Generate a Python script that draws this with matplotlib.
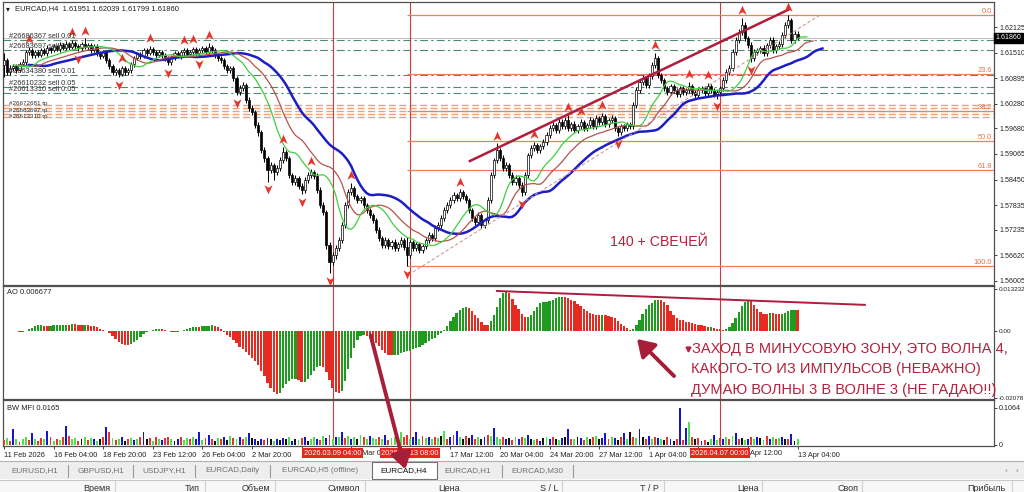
import numpy as np
import pandas as pd
import matplotlib
matplotlib.use("Agg")
import matplotlib.pyplot as plt
from matplotlib.patches import Rectangle, FancyArrowPatch
from matplotlib.path import Path
from matplotlib.lines import Line2D

plt.rcParams['font.family'] = ['Liberation Sans', 'DejaVu Sans']

# ---------------- data (prices in 1e-4 units) ----------------
opens = [
16120,16132,16104,16113,16118,16108,16123,16128,16152,16157,
16145,16152,16145,16157,16149,16161,16157,16166,16159,16169,
16161,16171,16164,16173,16166,16161,16171,16164,16169,16157,
16166,16149,16142,16152,16132,16118,16104,16108,16099,16113,
16104,16108,16123,16137,16147,16142,16157,16149,16159,16152,
16145,16152,16145,16137,16128,16140,16149,16142,16152,16157,
16147,16152,16159,16149,16157,16161,16152,16164,16157,16145,
16137,16132,16118,16108,16113,16089,16055,16065,16072,16036,
16017,16007,15976,15959,15916,15896,15867,15879,15863,15872,
15891,15911,15896,15855,15838,15848,15829,15819,15843,15855,
15863,15853,15819,15783,15766,15687,15646,15662,15679,15699,
15735,15783,15814,15824,15805,15795,15800,15783,15771,15759,
15747,15723,15703,15687,15699,15684,15694,15679,15689,15699,
15682,15662,15694,15679,15689,15675,15684,15699,15711,15703,
15728,15735,15752,15771,15783,15795,15807,15800,15814,15805,
15795,15771,15752,15742,15759,15735,15747,15795,15855,15891,
15916,15896,15872,15879,15855,15838,15848,15831,15814,15855,
15903,15920,15928,15916,15925,15935,15952,15969,15976,15964,
15983,15973,15988,15969,15978,15964,15973,15983,15969,15976,
15988,15973,15993,15983,15997,15978,15988,15993,15969,15959,
15973,15969,15978,15973,16024,16060,16079,16089,16072,16094,
16120,16137,16096,16084,16065,16055,16070,16060,16050,16065,
16055,16060,16070,16055,16048,16060,16065,16053,16070,16060,
16050,16055,16065,16084,16104,16113,16152,16181,16200,16217,
16185,16169,16137,16152,16157,16161,16149,16169,16181,16157,
16166,16171,16193,16217,16229,16181,16195]

highs = [
16150,16137,16120,16124,16123,16128,16135,16158,16164,16161,
16158,16157,16163,16162,16168,16165,16172,16170,16176,16173,
16178,16176,16181,16178,16171,16177,16185,16175,16174,16172,
16171,16155,16158,16157,16138,16124,16114,16113,16119,16118,
16114,16128,16143,16153,16152,16163,16162,16166,16164,16158,
16158,16157,16151,16142,16146,16155,16154,16158,16163,16162,
16158,16165,16164,16163,16167,16166,16175,16170,16162,16151,
16142,16138,16124,16119,16118,16094,16073,16079,16077,16043,
16024,16013,15983,15965,15923,15902,15886,15885,15880,15899,
15923,15917,15902,15861,15855,15854,15836,15850,15862,15870,
15869,15860,15826,15790,15772,15694,15670,15686,15706,15742,
15790,15822,15836,15830,15811,15806,15806,15789,15777,15765,
15753,15730,15710,15706,15705,15700,15701,15695,15706,15705,
15706,15700,15700,15695,15695,15690,15705,15718,15717,15735,
15742,15759,15778,15790,15802,15815,15813,15821,15820,15811,
15801,15777,15758,15766,15765,15753,15802,15862,15898,15932,
15922,15903,15886,15885,15862,15855,15854,15838,15862,15910,
15927,15935,15934,15931,15942,15959,15976,15983,15982,15990,
15990,15995,16000,15984,15985,15979,15990,15989,15982,15995,
15994,16000,15999,16005,16003,15994,16000,15999,15975,15979,
15979,15984,15984,16031,16067,16086,16096,16095,16101,16127,
16149,16143,16102,16090,16071,16076,16076,16066,16071,16071,
16066,16080,16076,16061,16066,16071,16071,16077,16076,16066,
16061,16071,16091,16111,16120,16159,16188,16208,16234,16224,
16192,16176,16159,16163,16167,16168,16175,16188,16188,16172,
16178,16200,16224,16241,16235,16202,16204]

lows = [
16092,16096,16098,16107,16101,16103,16118,16122,16146,16138,
16139,16140,16140,16144,16143,16151,16152,16154,16153,16156,
16156,16158,16159,16160,16155,16156,16159,16158,16151,16152,
16143,16136,16137,16126,16111,16096,16098,16091,16094,16098,
16096,16102,16117,16132,16136,16137,16143,16144,16146,16139,
16140,16139,16131,16121,16122,16134,16137,16136,16146,16141,
16142,16146,16144,16143,16151,16147,16147,16151,16139,16130,
16126,16112,16101,16102,16083,16048,16049,16058,16030,16010,
16000,15969,15951,15909,15888,15840,15860,15845,15856,15866,
15885,15889,15848,15831,15832,15822,15810,15812,15837,15849,
15846,15812,15776,15759,15678,15619,15638,15654,15672,15692,
15728,15776,15807,15798,15788,15788,15776,15764,15752,15740,
15716,15696,15679,15680,15677,15677,15672,15672,15683,15675,
15636,15655,15672,15673,15668,15668,15677,15692,15696,15697,
15721,15728,15745,15764,15776,15788,15793,15793,15798,15788,
15764,15745,15735,15735,15728,15728,15740,15788,15848,15884,
15889,15865,15865,15848,15831,15831,15824,15805,15807,15848,
15896,15913,15909,15909,15918,15928,15945,15962,15957,15957,
15966,15966,15962,15962,15957,15957,15966,15962,15962,15969,
15966,15966,15976,15976,15971,15971,15981,15962,15949,15952,
15962,15962,15966,15966,16017,16053,16072,16065,16065,16087,
16113,16089,16077,16058,16048,16048,16053,16043,16043,16048,
16048,16053,16048,16041,16041,16053,16046,16046,16053,16043,
16040,16048,16058,16077,16097,16106,16145,16174,16193,16178,
16162,16128,16130,16145,16150,16142,16142,16162,16150,16150,
16159,16164,16186,16210,16174,16174,16180]

closes = [
16132,16104,16113,16118,16108,16123,16128,16152,16157,16145,
16152,16145,16157,16149,16161,16157,16166,16159,16169,16161,
16171,16164,16173,16166,16161,16171,16164,16169,16157,16166,
16149,16142,16152,16132,16118,16104,16108,16099,16113,16104,
16108,16123,16137,16147,16142,16157,16149,16159,16152,16145,
16152,16145,16137,16128,16140,16149,16142,16152,16157,16147,
16152,16159,16149,16157,16161,16152,16164,16157,16145,16137,
16132,16118,16108,16113,16089,16055,16065,16072,16036,16017,
16007,15976,15959,15916,15896,15867,15879,15863,15872,15891,
15911,15896,15855,15838,15848,15829,15819,15843,15855,15863,
15853,15819,15783,15766,15687,15646,15662,15679,15699,15735,
15783,15814,15824,15805,15795,15800,15783,15771,15759,15747,
15723,15703,15687,15699,15684,15694,15679,15689,15699,15682,
15662,15694,15679,15689,15675,15684,15699,15711,15703,15728,
15735,15752,15771,15783,15795,15807,15800,15814,15805,15795,
15771,15752,15742,15759,15735,15747,15795,15855,15891,15916,
15896,15872,15879,15855,15838,15848,15831,15814,15855,15903,
15920,15928,15916,15925,15935,15952,15969,15976,15964,15983,
15973,15988,15969,15978,15964,15973,15983,15969,15976,15988,
15973,15993,15983,15997,15978,15988,15993,15969,15959,15973,
15969,15978,15973,16024,16060,16079,16089,16072,16094,16120,
16137,16096,16084,16065,16055,16070,16060,16050,16065,16055,
16060,16070,16055,16048,16060,16065,16053,16070,16060,16050,
16055,16065,16084,16104,16113,16152,16181,16200,16217,16185,
16169,16137,16152,16157,16161,16149,16169,16181,16157,16166,
16171,16193,16217,16229,16181,16195,16186]

# BW MFI values (1e-3 units) and bar colours (g=green, r=red, b=blue, k=black)
mfi = [
14,20,12,46,18,10,16,22,14,35, 18,12,20,16,41,24,12,18,14,22,
55,26,16,20,12,18,24,14,20,16, 12,18,22,52,38,20,14,18,22,12,
16,20,14,18,24,38,16,20,12,22, 18,14,20,24,16,12,18,22,14,20,
16,24,18,38,14,20,28,16,12,20, 18,22,14,26,20,16,24,18,22,35,
20,16,12,18,14,20,16,12,18,14, 20,16,22,12,18,14,20,24,12,16,
22,18,14,26,20,30,18,24,22,38, 20,26,18,24,16,28,22,18,26,20,
16,22,18,28,14,20,24,16,38,22, 30,18,24,38,16,26,20,22,18,24,
20,26,40,18,24,30,40,22,18,26, 20,28,16,24,18,22,30,26,50,24,
18,22,16,20,14,24,18,22,20,29, 16,14,18,12,20,24,18,22,16,14,
20,24,46,18,16,22,20,14,24,18, 22,26,16,20,34,18,24,20,14,22,
35,18,38,24,20,46,22,16,26,18, 24,20,18,14,22,16,12,18,106,14,
50,67,24,16,20,12,14,10,18,29, 14,20,16,22,18,26,35,16,20,14,
18,22,16,24,20,14,26,18,22,16, 20,24,18,16,32,12,16]
mfi_colors = ("rgrbgrggrb" "grrgbrgrgr" "brggrkgrgb" "gkrbrgrgbk" "rgbgrbkrgr"
              "gbrrgkbrgg" "rgbbgrbrkg" "rbkgrgbrgb" "kbkbrbkgbk" "bkgbkgrbkg"
              "gbrgbrgbgb" "rgbgkgrgbg" "grgbrggrgr" "rgbbgrgbgr" "gkgrbrbgkr"
              "kbrgkbrgbg" "grbkrgbrgb" "kgrbkgbrkg" "bkbrgkbrgk" "rgkbbrgbkr"
              "bgkrgbkrbg" "rbgkrbkrbr" "bgrkrbrkgb" "grbgrgbrkg" "brgbkgrbgr"
              "gbkrbkg")

# time scale: ticks every 16 bars; labels hidden behind the red time boxes are blank,
# partly hidden ones show only their visible part (as on the screenshot)
time_tick_idx = [0, 16, 32, 48, 64, 80, 96, 112, 128, 144, 160, 176, 192, 208, 224, 240, 256]
time_tick_lbl = ["11 Feb 2026", "16 Feb 04:00", "18 Feb 20:00", "23 Feb 12:00", "26 Feb 04:00",
                 "2 Mar 20:00", "", "", "", "17 Mar 12:00",
                 "20 Mar 04:00", "24 Mar 20:00", "27 Mar 12:00", "1 Apr 04:00", "",
                 "", "13 Apr 04:00"]
partial_lbl = [(115.4, "Mar 0"), (240.6, "Apr 12:00")]
vline_idx = [106, 131, 231]
vline_lbl = ["2026.03.09 04:00", "2026.03.13 08:00", "2026.04.07 00:00"]

price_ticks = [1.62125, 1.61510, 1.60895, 1.60280, 1.59680, 1.59065,
               1.58450, 1.57835, 1.57235, 1.56620, 1.56005]
ao_ticks = [0.013232, 0.0, -0.02078]
ao_tick_lbl = ["0.013232", "0.00", "-0.02078"]
mfi_ticks = [0.1064, 0.0]
mfi_tick_lbl = ["0.1064", "0"]

fib_high, fib_low, fib_start = 1.6241, 1.5636, 130
fib_ratios = [0.0, 23.6, 38.2, 50.0, 61.8, 100.0]

order_green = [1.61812, 1.61571, 1.60968, 1.60679, 1.60535]
order_green_lbl = ["#26686367 sell 0.01", "#26683697 sell 0.07", "#26634380 sell 0.01",
                   "#26610232 sell 0.05", "#26613310 sell 0.05"]
order_orange = [1.60245, 1.60173, 1.60101, 1.60029, 1.59956]
order_orange_lbl = ["#26672681 tp", "#26683697 tp", "#26613310 tp"]
order_orange_lbl_price = [1.60270, 1.60114, 1.59958]

channel_x, channel_y = [150.3, 253.5], [1.58896, 1.62559]
dotted_x, dotted_y = [131.9, 263.2], [1.56221, 1.62414]
ao_line_x, ao_line_y = [159, 277.7], [0.01264, 0.00829]

# ---------------- figure ----------------
W, H = 1024, 492
fig = plt.figure(figsize=(W / 100, H / 100), dpi=100)
fig.patch.set_facecolor('white')

def FX(x):
    return x / W

def FY(y):
    return 1 - y / H

def px_axes(x0, y0, x1, y1):
    return fig.add_axes([FX(x0), FY(y1), (x1 - x0) / W, (y1 - y0) / H])

BAR0, DX = 4.0, 3.1
XL = ((3 - BAR0) / DX, (994 - BAR0) / DX)

def price_at(y):
    return 1.62125 - (y - 27) / 4150.0

ax1 = px_axes(3, 2, 994, 285)
ax2 = px_axes(3, 286, 994, 399)
ax3 = px_axes(3, 400, 994, 446)

o = np.array(opens) / 1e4
h = np.array(highs) / 1e4
l = np.array(lows) / 1e4
c = np.array(closes) / 1e4
n = len(c)
idx = np.arange(n)

for ax in (ax1, ax2, ax3):
    ax.set_facecolor('white')
    ax.set_xlim(*XL)
    for s in ax.spines.values():
        s.set_color('#505050')
        s.set_linewidth(0.9)
    ax.yaxis.tick_right()
    ax.tick_params(axis='y', labelsize=5.1, length=2.5, pad=1.2, colors='#222222', width=0.6)
    for v in vline_idx:
        ax.axvline(v, color='#d23a3a', lw=0.8, zorder=2)
for ax in (ax1, ax2):
    ax.tick_params(axis='x', bottom=False, labelbottom=False)

# ---- main panel ----
ax1.set_ylim(price_at(285), price_at(2))
ax1.set_yticks(price_ticks)
ax1.set_yticklabels([f"{v:.5f}" for v in price_ticks])

# order lines
ax1.axhline(c[-1], color='#bdbdbd', lw=0.7, zorder=1)
for p, t in zip(order_green, order_green_lbl):
    ax1.axhline(p, color='#4d8c68', lw=0.8, ls=(0, (7, 3, 2, 3)), zorder=1)
    ax1.text(1.5, p, t, fontsize=5.3, color='#303030', va='bottom', ha='left', zorder=7)
for p in order_orange:
    ax1.axhline(p, color='#e9a27a', lw=1.0, ls=(0, (5, 2.5)), zorder=1)
for p, t in zip(order_orange_lbl_price, order_orange_lbl):
    ax1.text(1.5, p, t, fontsize=4.5, color='#303030', va='center', ha='left', zorder=7)

# fibonacci
for r in fib_ratios:
    lv = fib_high - r / 100.0 * (fib_high - fib_low)
    ax1.hlines(lv, fib_start, XL[1], color='#e8845c', lw=0.9, zorder=2)
    ax1.text(0.998, lv, f"{r:.1f}", transform=ax1.get_yaxis_transform(), ha='right', va='bottom',
             fontsize=5.3, color='#e07050', zorder=7)

# candles
ax1.vlines(idx, l, h, color='black', lw=0.75, zorder=3)
up = c >= o
body_lo = np.minimum(o, c)
body_h = np.maximum(np.abs(c - o), 0.00003)
ax1.bar(idx, body_h, bottom=body_lo, width=0.66, color=np.where(up, 'white', 'black'),
        edgecolor='black', linewidth=0.5, zorder=4)

# alligator
med = pd.Series((h + l) / 2)
jaw = med.ewm(alpha=1 / 13, adjust=False).mean()
teeth = med.ewm(alpha=1 / 8, adjust=False).mean()
lips = med.ewm(alpha=1 / 5, adjust=False).mean()
ax1.plot(idx + 8, jaw, color='#1d1dc4', lw=1.8, zorder=5)
ax1.plot(idx + 5, teeth, color='#b5534c', lw=0.9, zorder=5)
ax1.plot(idx + 3, lips, color='#3fcf3f', lw=0.9, zorder=5)

# trend lines
ax1.plot(dotted_x, dotted_y, color='#c99a9a', lw=0.8, ls=(0, (3, 2)), zorder=5)
ax1.plot(channel_x, channel_y, color='#b01c3c', lw=1.8, zorder=6)

# fractals
arrow_up = Path([(0, 1), (0.85, -0.9), (0, -0.35), (-0.85, -0.9), (0, 1)],
                [Path.MOVETO, Path.LINETO, Path.LINETO, Path.LINETO, Path.CLOSEPOLY])
arrow_dn = Path([(0, -1), (0.85, 0.9), (0, 0.35), (-0.85, 0.9), (0, -1)],
                [Path.MOVETO, Path.LINETO, Path.LINETO, Path.LINETO, Path.CLOSEPOLY])
upf = [i for i in range(2, n - 2) if h[i] > max(h[i - 2], h[i - 1], h[i + 1], h[i + 2])]
dnf = [i for i in range(2, n - 2) if l[i] < min(l[i - 2], l[i - 1], l[i + 1], l[i + 2])]
ax1.scatter(upf, h[upf] + 0.0019, marker=arrow_up, s=48, c='#e5352b', linewidths=0, zorder=6)
ax1.scatter(dnf, l[dnf] - 0.0019, marker=arrow_dn, s=48, c='#e5352b', linewidths=0, zorder=6)

# current price box
ax1.annotate(f"{c[-1]:.5f}", xy=(1.0, c[-1]), xycoords=ax1.get_yaxis_transform(),
             xytext=(1.0, 0), textcoords='offset points', ha='left', va='center',
             fontsize=5.1, color='white', annotation_clip=False, zorder=10,
             bbox=dict(boxstyle='square,pad=0.18', fc='black', ec='black'))

# ---- AO panel ----
ao = med.rolling(5, min_periods=1).mean() - med.rolling(34, min_periods=1).mean()
ao_col = np.where(ao.diff().fillna(0).values >= 0, '#1f9c1f', '#e62b22')
ax2.bar(idx, ao.values, width=0.72, color=ao_col, linewidth=0, zorder=3)
ax2.set_ylim(-0.0212, 0.0142)
ax2.set_yticks(ao_ticks)
ax2.set_yticklabels(ao_tick_lbl)
ax2.tick_params(axis='y', labelsize=4.6)
ax2.plot(ao_line_x, ao_line_y, color='#b01c3c', lw=1.4, zorder=5)

# ---- MFI panel ----
cmap = {'g': '#4fe04f', 'r': '#e0382e', 'b': '#1616d2', 'k': '#111111'}
m = min(len(mfi), len(mfi_colors), n)
ax3.bar(idx[:m], np.array(mfi[:m]) / 1000.0, width=0.62,
        color=[cmap[ch] for ch in mfi_colors[:m]], linewidth=0, zorder=3)
ax3.set_ylim(-0.0029, 0.1294)
ax3.set_yticks(mfi_ticks)
ax3.set_yticklabels(mfi_tick_lbl)
ax3.set_xticks(time_tick_idx)
ax3.set_xticklabels(time_tick_lbl)
ax3.tick_params(axis='x', labelsize=5.3, length=2.5, pad=1.5, colors='#222222', width=0.6)
for t in ax3.get_xticklabels():
    t.set_ha('left')
for xi, t in partial_lbl:
    ax3.annotate(t, xy=(xi, 0), xycoords=ax3.get_xaxis_transform(), xytext=(0, -5.3),
                 textcoords='offset points', ha='left', va='center', fontsize=5.3,
                 color='#222222', annotation_clip=False)
for v, t in zip(vline_idx, vline_lbl):
    ax3.annotate(t, xy=(v, 0), xycoords=ax3.get_xaxis_transform(), xytext=(0, -5.3),
                 textcoords='offset points', ha='center', va='center', fontsize=5.3,
                 color='white', annotation_clip=False, zorder=10,
                 bbox=dict(boxstyle='square,pad=0.22', fc='#e8251f', ec='none'))

# ---- panel titles ----
fig.text(FX(6), FY(8.5), "▾", fontsize=5.5, color='#202020', va='center', ha='left',
         family=['DejaVu Sans'])
fig.text(FX(15), FY(8.5), "EURCAD,H4  1.61951 1.62039 1.61799 1.61860", fontsize=5.4,
         color='#202020', va='center', ha='left')
fig.text(FX(7), FY(292), "AO 0.006677", fontsize=5.4, color='#202020', va='center', ha='left')
fig.text(FX(7), FY(409), "BW MFI 0.0165", fontsize=5.4, color='#202020', va='center', ha='left')

# ---- annotations ----
red_txt = '#b3213c'
fig.text(FX(610), FY(242), "140 + СВЕЧЕЙ", fontsize=10.2, color=red_txt, va='center', ha='left')
fig.text(FX(692), FY(349), "ЗАХОД В МИНУСОВУЮ ЗОНУ, ЭТО ВОЛНА 4,", fontsize=10.5, color=red_txt,
         va='center', ha='left')
fig.text(FX(691), FY(369.5), "КАКОГО-ТО ИЗ ИМПУЛЬСОВ (НЕВАЖНО)", fontsize=10.5, color=red_txt,
         va='center', ha='left')
fig.text(FX(691), FY(390), "ДУМАЮ ВОЛНЫ 3 В ВОЛНЕ 3 (НЕ ГАДАЮ!!)", fontsize=10.5, color=red_txt,
         va='center', ha='left')
fig.add_artist(Line2D([FX(687.5)], [FY(349)], marker='v', ms=3.5, color=red_txt,
                      transform=fig.transFigure))

for (x0, y0, x1, y1) in [(370, 333, 406, 472), (676, 378, 635, 337)]:
    fig.add_artist(FancyArrowPatch((FX(x0), FY(y0)), (FX(x1), FY(y1)), transform=fig.transFigure,
                                   arrowstyle='-|>,head_length=0.55,head_width=0.35',
                                   mutation_scale=18, lw=2.8, color='#a81d37', zorder=20))

# ---- tab bar ----
fig.add_artist(Rectangle((0, FY(479)), 1, (479 - 461) / H, transform=fig.transFigure,
                         fc='#eeeeee', ec='none', zorder=0))
fig.add_artist(Line2D([0, 1], [FY(461), FY(461)], color='#b0b0b0', lw=0.8, transform=fig.transFigure))
fig.add_artist(Rectangle((FX(372), FY(479)), (437 - 372) / W, (479 - 462) / H, transform=fig.transFigure,
                         fc='white', ec='#707070', lw=0.8, zorder=1))
tabs = [("EURUSD,H1", 35), ("GBPUSD,H1", 101), ("USDJPY,H1", 164), ("EURCAD,Daily", 233),
        ("EURCAD,H5 (offline)", 320), ("EURCAD,H4", 404), ("EURCAD,H1", 468), ("EURCAD,M30", 537)]
for name, xc in tabs:
    fig.text(FX(xc), FY(471), name, fontsize=5.9, ha='center', va='center',
             color='#111111' if name == "EURCAD,H4" else '#707070')
for xs in [68, 133, 195, 270, 502, 573]:
    fig.add_artist(Line2D([FX(xs), FX(xs)], [FY(465), FY(477)], color='#9a9a9a', lw=0.8,
                          transform=fig.transFigure))
fig.text(FX(1006), FY(471), "‹", fontsize=6, ha='center', va='center', color='#808080')
fig.text(FX(1017), FY(471), "›", fontsize=6, ha='center', va='center', color='#808080')

# ---- terminal header row ----
fig.add_artist(Rectangle((0, 0), 1, (492 - 480) / H, transform=fig.transFigure,
                         fc='#f7f7f7', ec='none', zorder=0))
fig.add_artist(Line2D([0, 1], [FY(480), FY(480)], color='#c8c8c8', lw=0.8, transform=fig.transFigure))
cols = [("Время", 110), ("Тип", 200), ("Объем", 270), ("Символ", 360), ("Цена", 460),
        ("S / L", 559), ("T / P", 659), ("Цена", 759), ("Своп", 859), ("Прибыль", 1005)]
for name, xr in cols:
    fig.text(FX(xr), FY(484), name, fontsize=6.5, ha='right', va='top', color='#303030')
for xs in [115, 205, 275, 365, 562, 664, 762, 862, 1012]:
    fig.add_artist(Line2D([FX(xs), FX(xs)], [FY(481), 0], color='#d0d0d0', lw=0.8,
                          transform=fig.transFigure))

fig.savefig("out.png", dpi=100, facecolor='white')
